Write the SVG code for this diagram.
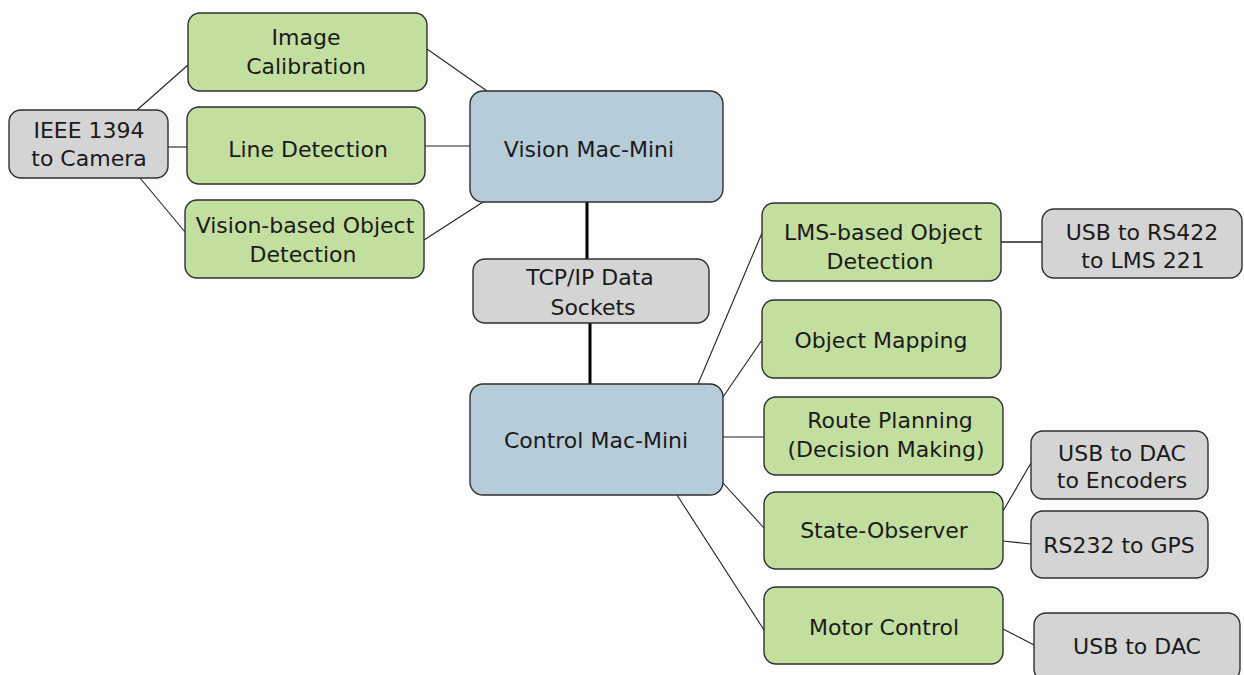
<svg xmlns="http://www.w3.org/2000/svg" width="1244" height="675" viewBox="0 0 1244 675">
<style>
.n rect{stroke:#2f2f2f;stroke-width:1.4}
.g rect{fill:#c3df9f}
.b rect{fill:#b7ccd9}
.y rect{fill:#d4d4d4}
text{font-family:"DejaVu Sans","Liberation Sans",sans-serif;font-size:22px;fill:#1a1a1a;text-anchor:middle}
.c line{stroke:#222;stroke-width:1.1}
.c line.t{stroke:#000;stroke-width:3}
</style>
<rect x="0" y="0" width="1244" height="675" fill="#fdfdfd"/>
<g class="c">
<line x1="137" y1="110" x2="188" y2="65"/>
<line x1="168" y1="147" x2="187" y2="147"/>
<line x1="140" y1="178" x2="185" y2="232"/>
<line x1="427" y1="49" x2="487" y2="91"/>
<line x1="425" y1="146" x2="470" y2="146"/>
<line x1="424" y1="240" x2="483" y2="202"/>
<line class="t" x1="587" y1="202" x2="587" y2="259"/>
<line class="t" x1="590" y1="323" x2="590" y2="384"/>
<line x1="698" y1="384" x2="762" y2="233"/>
<line x1="723" y1="397" x2="762" y2="340"/>
<line x1="723" y1="437" x2="764" y2="437"/>
<line x1="723" y1="483" x2="764" y2="528"/>
<line x1="677" y1="495" x2="764" y2="630"/>
<line x1="1001" y1="242" x2="1042" y2="242" style="stroke-width:1.5"/>
<line x1="1003" y1="511" x2="1031" y2="463"/>
<line x1="1003" y1="541" x2="1031" y2="544"/>
<line x1="1003" y1="629" x2="1034" y2="645"/>
</g>
<g id="ieee" class="n y"><rect x="9" y="110" width="159" height="68" rx="12"/><text x="89" y="138">IEEE 1394</text><text x="89" y="166">to Camera</text></g>
<g id="calib" class="n g"><rect x="188" y="13" width="239" height="78" rx="12"/><text x="306" y="45">Image</text><text x="306" y="74">Calibration</text></g>
<g id="line" class="n g"><rect x="187" y="107" width="238" height="77" rx="12"/><text x="308" y="157">Line Detection</text></g>
<g id="vobj" class="n g"><rect x="185" y="200" width="239" height="78" rx="12"/><text x="305" y="233">Vision-based Object</text><text x="303" y="262">Detection</text></g>
<g id="vmac" class="n b"><rect x="470" y="91" width="253" height="111" rx="13"/><text x="589" y="157">Vision Mac-Mini</text></g>
<g id="tcp" class="n y"><rect x="473" y="259" width="236" height="64" rx="12"/><text x="590" y="285">TCP/IP Data</text><text x="593" y="315">Sockets</text></g>
<g id="cmac" class="n b"><rect x="470" y="384" width="253" height="111" rx="13"/><text x="596" y="448">Control Mac-Mini</text></g>
<g id="lms" class="n g"><rect x="762" y="203" width="239" height="78" rx="12"/><text x="883" y="240">LMS-based Object</text><text x="880" y="269">Detection</text></g>
<g id="rs422" class="n y"><rect x="1042" y="209" width="200" height="69" rx="12"/><text x="1142" y="240">USB to RS422</text><text x="1143" y="268">to LMS 221</text></g>
<g id="map" class="n g"><rect x="762" y="300" width="239" height="78" rx="12"/><text x="881" y="348">Object Mapping</text></g>
<g id="route" class="n g"><rect x="764" y="397" width="239" height="78" rx="12"/><text x="890" y="428">Route Planning</text><text x="886" y="457">(Decision Making)</text></g>
<g id="dacenc" class="n y"><rect x="1031" y="431" width="177" height="68" rx="12"/><text x="1122" y="461">USB to DAC</text><text x="1122" y="488">to Encoders</text></g>
<g id="state" class="n g"><rect x="764" y="492" width="239" height="77" rx="12"/><text x="884" y="538">State-Observer</text></g>
<g id="gps" class="n y"><rect x="1031" y="511" width="177" height="67" rx="12"/><text x="1119" y="553">RS232 to GPS</text></g>
<g id="motor" class="n g"><rect x="764" y="587" width="239" height="77" rx="12"/><text x="884" y="635">Motor Control</text></g>
<g id="dac" class="n y"><rect x="1034" y="613" width="206" height="68" rx="12"/><text x="1137" y="654">USB to DAC</text></g>
</svg>
